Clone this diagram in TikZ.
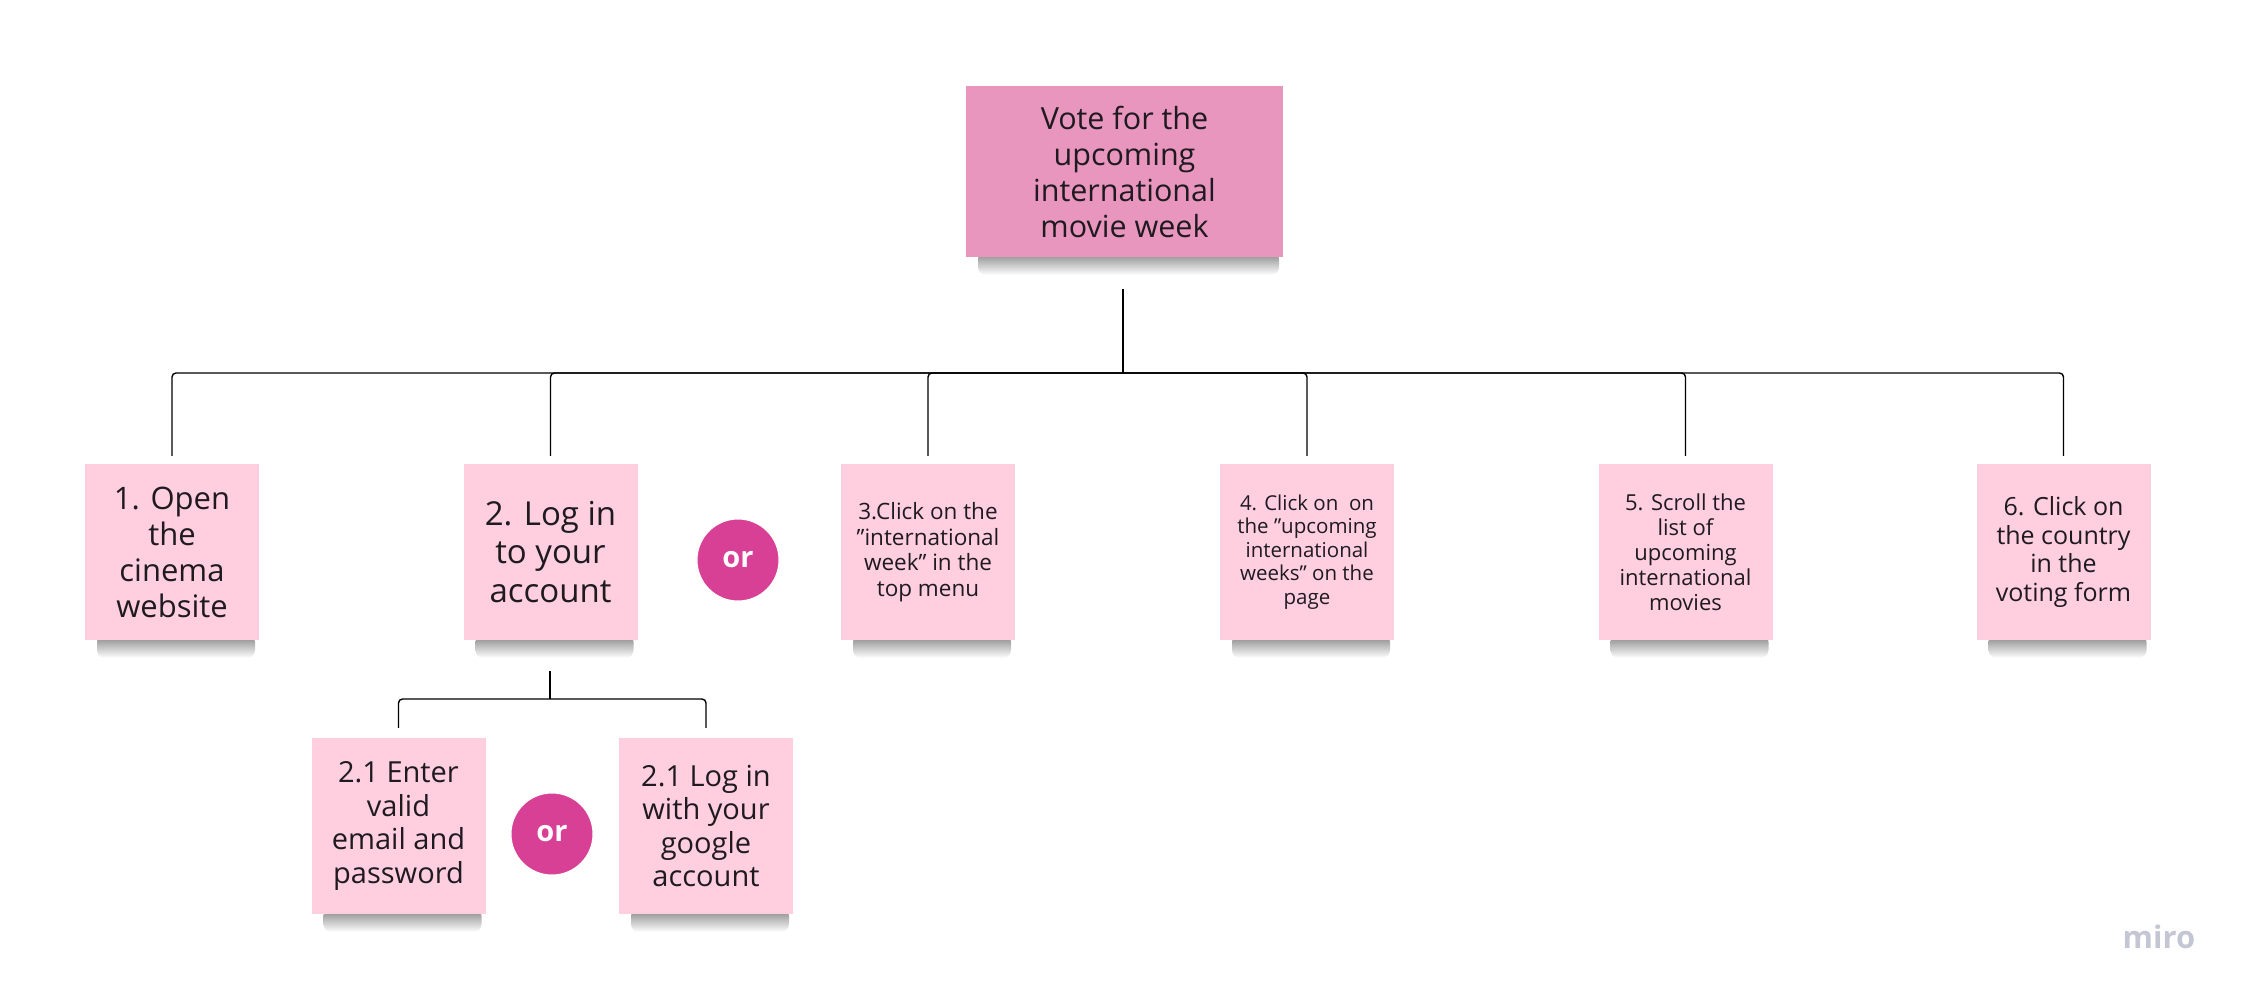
\documentclass[tikz,border=0pt]{standalone}
\usepackage{fontspec}
\setmainfont{Open Sans}[Ligatures=ResetAll]
\usetikzlibrary{positioning}
\definecolor{toppink}{RGB}{233,150,190}
\definecolor{stickypink}{RGB}{255,206,223}
\definecolor{ormag}{RGB}{216,64,150}
\definecolor{txt}{RGB}{30,26,32}
\definecolor{mirogray}{RGB}{196,198,212}
\newcommand{\dq}{"}
\tikzset{
  sticky/.style={fill=stickypink, draw=none, minimum width=174pt, minimum height=176pt,
    align=center, inner sep=0pt, text=txt},
  topsticky/.style={fill=toppink, draw=none, minimum width=317pt, minimum height=171pt,
    align=center, inner sep=0pt, text=txt},
  orcircle/.style={circle, fill=ormag, draw=white, line width=1pt, minimum size=82pt, inner sep=0pt,
    text=white, font=\fontsize{29}{32}\selectfont\bfseries},
  conn/.style={draw=black, line width=1.4pt, rounded corners=4pt},
  shadowband/.style={top color=black!50, bottom color=white, draw=none, rounded corners=8pt}
}
\begin{document}
\begin{tikzpicture}[x=1pt,y=-1pt]
\useasboundingbox (0,0) rectangle (2247,1001);
\path
  (1124.5,171.5) coordinate (ctop)
  (172,552) coordinate (c1)
  (550.5,552) coordinate (c2)
  (928,552) coordinate (c3)
  (1307,552) coordinate (c4)
  (1685.5,552) coordinate (c5)
  (2063.5,552) coordinate (c6)
  (398.5,826) coordinate (c21)
  (706,826) coordinate (c22);
% soft shadows under the sticky notes
\foreach \cx/\cy/\w/\h in {1124.5/171.5/317/171, 172/552/174/176, 550.5/552/174/176, 928/552/174/176, 1307/552/174/176, 1685.5/552/174/176, 2063.5/552/174/176, 398.5/826/174/176, 706/826/174/176}{
  \shade[shadowband] (\cx-\w/2+12, \cy+\h/2-6) rectangle (\cx+\w/2-4, \cy+\h/2+18);
}
\node[topsticky, font=\fontsize{30.5}{36}\selectfont] (top) at (ctop) {Vote for the\\upcoming\\international\\movie week};
\node[sticky, font=\fontsize{31}{36}\selectfont] (n1) at (c1) {1. Open\\the\\cinema\\website};
\node[sticky, font=\fontsize{33}{38.5}\selectfont] (n2) at (c2) {2. Log in\\to your\\account};
\node[sticky, font=\fontsize{22.5}{25.5}\selectfont] (n3) at (c3) {3.Click on the\\\dq international\\week\dq\ in the\\top menu};
\node[sticky, font=\fontsize{20.5}{23.5}\selectfont] (n4) at (c4) {4. Click on\ \ on\\the \dq upcoming\\international\\weeks\dq\ on the\\page};
\node[sticky, font=\fontsize{22}{25}\selectfont] (n5) at (c5) {5. Scroll the\\list of\\upcoming\\international\\movies};
\node[sticky, font=\fontsize{25}{28.7}\selectfont] (n6) at (c6) {6. Click on\\the country\\in the\\voting form};
\node[sticky, font=\fontsize{29}{33.5}\selectfont] (n21) at (c21) {2.1 Enter\\valid\\email and\\password};
\node[sticky, font=\fontsize{29}{33.5}\selectfont] (n22) at (c22) {2.1 Log in\\with your\\google\\account};
\node[orcircle] (or1) at (738,560) {or};
\node[orcircle] (or2) at (552,834) {or};
\node[text=mirogray, font=\fontsize{31}{33}\selectfont\bfseries] (miro) at (2159,937) {miro};
% connectors
\coordinate (bus) at (1123,373);
\coordinate (sub) at (550,699);
\draw[conn, shorten <=32pt] (top.south -| bus) -- (bus);
\foreach \n in {n1,n2,n3,n4,n5,n6}{
  \draw[conn, shorten >=8pt] (bus) -| (\n.north);
}
\draw[conn, shorten <=31pt] (n2.south -| sub) -- (sub);
\foreach \n in {n21,n22}{
  \draw[conn, shorten >=10pt] (sub) -| (\n.north);
}
\end{tikzpicture}
\end{document}
